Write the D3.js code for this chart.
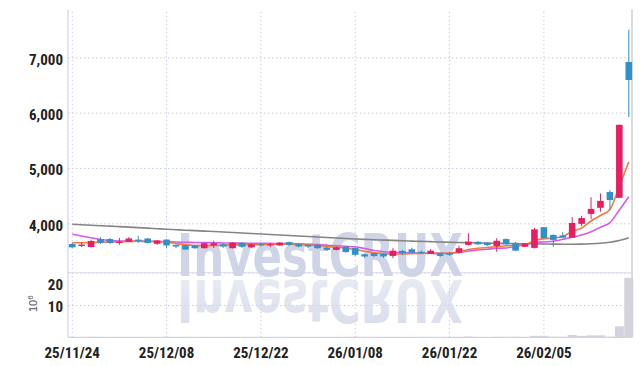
<!DOCTYPE html>
<html><head><meta charset="utf-8">
<script src="https://cdn.jsdelivr.net/npm/d3@7"></script>
<style>
html,body{margin:0;padding:0;background:#fff;}
svg{display:block;}
</style></head><body>
<svg id="c" width="642" height="366"></svg>
<script>
const dates = ["25/11/24","25/11/25","25/11/26","25/11/27","25/11/28","25/12/01","25/12/02","25/12/03","25/12/04","25/12/05",
"25/12/08","25/12/09","25/12/10","25/12/11","25/12/12","25/12/15","25/12/16","25/12/17","25/12/18","25/12/19",
"25/12/22","25/12/23","25/12/24","25/12/26","25/12/29","25/12/30","26/01/02","26/01/05","26/01/06","26/01/07",
"26/01/08","26/01/09","26/01/12","26/01/13","26/01/14","26/01/15","26/01/16","26/01/19","26/01/20","26/01/21",
"26/01/22","26/01/23","26/01/26","26/01/27","26/01/28","26/01/29","26/01/30","26/02/02","26/02/03","26/02/04",
"26/02/05","26/02/06","26/02/09","26/02/10","26/02/11","26/02/12","26/02/13","26/02/19","26/02/20","26/02/23"];
const open  = [3625,3590,3570,3715,3715,3645,3665,3705,3725,3630,3705,3610,3605,3600,3550,3600,3620,3550,3650,3565,
3620,3600,3600,3660,3620,3610,3610,3560,3520,3575,3555,3440,3460,3445,3410,3500,3530,3485,3445,3460,
3460,3470,3610,3665,3650,3590,3715,3640,3575,3555,3930,3790,3780,3740,3990,4170,4280,4565,4460,6915];
const high  = [3645,3660,3700,3750,3735,3735,3750,3770,3735,3700,3715,3615,3610,3610,3645,3685,3645,3660,3660,3635,
3645,3645,3660,3670,3645,3625,3625,3570,3580,3590,3565,3455,3465,3455,3550,3520,3560,3510,3535,3470,
3480,3595,3820,3680,3660,3730,3725,3660,3645,3915,3935,3800,3840,4110,4135,4470,4540,4600,5785,7500];
const low   = [3555,3570,3565,3625,3625,3610,3660,3645,3635,3610,3555,3555,3520,3535,3545,3555,3555,3545,3555,3555,
3580,3570,3590,3590,3565,3555,3535,3500,3510,3470,3410,3375,3390,3375,3370,3425,3465,3445,3445,3390,
3410,3455,3600,3610,3590,3485,3610,3500,3570,3545,3715,3570,3735,3735,3950,4080,4210,4240,4455,5920];
const close = [3565,3615,3680,3645,3645,3670,3725,3680,3645,3690,3600,3580,3525,3550,3640,3640,3580,3650,3575,3620,
3600,3620,3650,3610,3580,3580,3550,3520,3565,3480,3430,3400,3410,3400,3505,3460,3470,3460,3505,3410,
3430,3550,3670,3620,3605,3685,3620,3505,3635,3890,3730,3700,3740,4005,4095,4260,4405,4420,5780,6590];
// volume, millions of shares
const volume = [0.12,0.08,0.15,0.10,0.09,0.11,0.13,0.10,0.08,0.09,0.12,0.07,0.10,0.08,0.11,0.09,0.07,0.10,0.09,0.06,
0.07,0.06,0.08,0.07,0.06,0.05,0.07,0.08,0.06,0.09,0.12,0.08,0.07,0.06,0.10,0.07,0.08,0.06,0.07,0.08,
0.07,0.10,0.25,0.10,0.08,0.15,0.12,0.14,0.10,0.45,0.45,0.18,0.12,0.75,0.45,0.6,0.6,0.2,3.4,18.4];
const ma5 = [3649,3649,3653,3658,3662,3666,3671,3675,3677,3671,3658,3635,3613,3600,3593,3599,3604,3608,3611,3613,
3617,3621,3622,3621,3615,3608,3597,3581,3566,3550,3527,3496,3467,3451,3445,3445,3451,3456,3458,3456,
3458,3485,3527,3548,3563,3577,3593,3602,3617,3689,3720,3734,3761,3855,3915,4042,4141,4249,4674,5108];
const ma20 = [3801,3771,3738,3707,3689,3680,3677,3675,3671,3669,3668,3662,3657,3653,3651,3648,3644,3642,3640,3639,
3639,3637,3635,3633,3630,3622,3615,3604,3593,3584,3575,3545,3508,3487,3476,3469,3463,3460,3458,3456,
3458,3472,3499,3517,3532,3548,3554,3581,3617,3649,3663,3675,3710,3747,3789,3848,3928,4011,4240,4481];
const ma120 = [3982,3973,3964,3955,3948,3940,3931,3922,3913,3902,3892,3884,3875,3868,3859,3852,3843,3834,3825,3816,
3807,3798,3789,3780,3771,3761,3752,3743,3734,3725,3716,3709,3702,3696,3691,3684,3678,3673,3668,3662,
3657,3653,3649,3646,3642,3639,3635,3633,3630,3628,3626,3624,3622,3622,3624,3630,3640,3658,3689,3740];
const priceTicks = [4000,5000,6000,7000];
const volumeTicks = [10,20];
const dateTicks = ["25/11/24","25/12/08","25/12/22","26/01/08","26/01/22","26/02/05"];

const L=68, R=632, T=9.3, PB=272.7, VB=337.3;
const UP="#e61e64", DOWN="#2f91c9";
const FONT='"Liberation Sans Narrow","Roboto Condensed",sans-serif';
const GRID="#c6cce0";

const svg=d3.select("#c");
const x=d3.scaleBand().domain(dates).range([67.5,633.5]);
const cx=d=>x(d)+x.bandwidth()/2;
const y=d3.scaleLinear().domain([3107,7868]).range([PB,T]);
const yv=d3.scaleLinear().domain([0,20]).range([VB,PB]);

// x axis + vertical grid
const gx=svg.append("g").attr("transform",`translate(0,${VB})`)
  .call(d3.axisBottom(x).tickValues(dateTicks).tickSize(-(VB-T)).tickPadding(10));
gx.select(".domain").remove();
gx.selectAll(".tick line").attr("stroke",GRID).attr("stroke-dasharray","1.5,2.5");
gx.selectAll(".tick text").attr("font-family",FONT).attr("font-size",15).attr("font-weight","bold").attr("fill","#222");

// price axis + grid
const gy=svg.append("g").attr("transform",`translate(${L},0)`)
  .call(d3.axisLeft(y).tickValues(priceTicks).tickFormat(d3.format(",")).tickSize(-(R-L)).tickPadding(5));
gy.select(".domain").remove();
gy.selectAll(".tick line").attr("stroke",GRID).attr("stroke-dasharray","1.5,2.5");
gy.selectAll(".tick text").attr("font-family",FONT).attr("font-size",15).attr("font-weight","bold").attr("fill","#222").attr("dy","0.45em");

// volume axis + grid
const gv=svg.append("g").attr("transform",`translate(${L},0)`)
  .call(d3.axisLeft(yv).tickValues(volumeTicks).tickSize(-(R-L)).tickPadding(5));
gv.select(".domain").remove();
gv.selectAll(".tick line").attr("stroke",GRID).attr("stroke-dasharray","1.5,2.5");
gv.selectAll(".tick text").attr("font-family",FONT).attr("font-size",15).attr("font-weight","bold").attr("fill","#222")
  .attr("dy",d=>d===20?"1.1em":"0.4em");

// panel separator & frame
svg.append("line").attr("x1",L).attr("x2",R).attr("y1",PB).attr("y2",PB).attr("stroke","#dcdfe9").attr("stroke-width",1);
svg.append("line").attr("x1",L).attr("x2",L).attr("y1",T).attr("y2",VB).attr("stroke","#c9ccda");
svg.append("line").attr("x1",L).attr("x2",R).attr("y1",VB).attr("y2",VB).attr("stroke","#c9ccda");
svg.append("line").attr("x1",R).attr("x2",R).attr("y1",T).attr("y2",VB).attr("stroke","#cfd0d6").attr("stroke-width",1.5);

// volume label 10^6
const vl=svg.append("text").attr("transform","translate(37,312) rotate(-90)")
  .attr("font-family",'"Liberation Sans",sans-serif').attr("font-size",11).attr("fill","#555");
vl.append("tspan").text("10");
vl.append("tspan").attr("font-size",8).attr("dy","-4").text("6");

// watermark
const defs=svg.append("defs");
const lg=defs.append("linearGradient").attr("id","fade").attr("x1",0).attr("y1",0).attr("x2",0).attr("y2",1);
lg.append("stop").attr("offset","0").attr("stop-color","#d3d8e8").attr("stop-opacity",0.9);
lg.append("stop").attr("offset","1").attr("stop-color","#d3d8e8").attr("stop-opacity",0.45);
const wm=svg.append("g");
wm.append("text").attr("x",177).attr("y",276).attr("font-family",'"DejaVu Sans Condensed","DejaVu Sans",sans-serif')
  .attr("font-weight","bold").attr("font-size",59).attr("textLength",286).attr("lengthAdjust","spacingAndGlyphs")
  .attr("fill","#cfd5e6").text("InvestCRUX");
wm.append("text").attr("transform","translate(0,556) scale(1,-1)").attr("x",177).attr("y",276)
  .attr("font-family",'"DejaVu Sans Condensed","DejaVu Sans",sans-serif')
  .attr("font-weight","bold").attr("font-size",59).attr("textLength",286).attr("lengthAdjust","spacingAndGlyphs")
  .attr("fill","url(#fade)").text("InvestCRUX");

// volume bars
svg.append("g").selectAll("rect").data(dates).join("rect")
  .attr("x",d=>x(d)+0.2).attr("width",x.bandwidth()-0.4)
  .attr("y",(d,i)=>yv(volume[i])).attr("height",(d,i)=>VB-yv(volume[i]))
  .attr("fill","#d2d3db");

// moving averages
const line=arr=>d3.line().x((v,i)=>cx(dates[i])).y(v=>y(v)).curve(d3.curveMonotoneX)(arr);
svg.append("path").attr("d",line(ma120)).attr("fill","none").attr("stroke","#858585").attr("stroke-width",1.6);
svg.append("path").attr("d",line(ma20)).attr("fill","none").attr("stroke","#d25ce6").attr("stroke-width",1.6);
svg.append("path").attr("d",line(ma5)).attr("fill","none").attr("stroke","#f07c3e").attr("stroke-width",1.6);

// candles
const bw=x.bandwidth()*0.7;
const cg=svg.append("g").selectAll("g").data(dates).join("g");
cg.append("line").attr("x1",d=>cx(d)).attr("x2",d=>cx(d))
  .attr("y1",(d,i)=>y(high[i])).attr("y2",(d,i)=>y(low[i]))
  .attr("stroke",(d,i)=>close[i]>=open[i]?UP:DOWN).attr("stroke-width",1);
cg.append("rect").attr("x",d=>cx(d)-bw/2).attr("width",bw)
  .attr("y",(d,i)=>y(Math.max(open[i],close[i])))
  .attr("height",(d,i)=>Math.max(1,Math.abs(y(open[i])-y(close[i]))))
  .attr("fill",(d,i)=>close[i]>=open[i]?UP:DOWN);
</script>
</body></html>
